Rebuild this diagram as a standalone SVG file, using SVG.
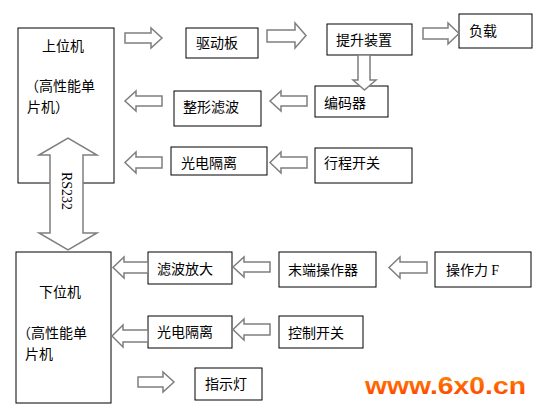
<svg xmlns="http://www.w3.org/2000/svg" width="539" height="409" viewBox="0 0 539 409">
<defs>
<style>
.box{fill:#fff;stroke:#000;stroke-width:1}
.arr{fill:#fff;stroke:#7f7f7f;stroke-width:1.5;stroke-linejoin:miter}
.t{font-family:"Noto Sans CJK SC","Noto Sans CJK JP",sans-serif;font-size:14px;fill:#000}
.s{font-family:"Liberation Serif",serif;font-size:14px;fill:#000}
</style>
<linearGradient id="wm" x1="0" y1="0" x2="0" y2="1">
<stop offset="0" stop-color="#ff8c00"/>
<stop offset="1" stop-color="#ff3c00"/>
</linearGradient>
</defs>
<rect width="539" height="409" fill="#fff"/>

<g id="upper">
<rect class="box" x="18" y="28" width="96" height="155"/>
<text class="t" x="42" y="51">上位机</text>
<text class="t" x="25" y="91">（高性能单</text>
<text class="t" x="27" y="112">片机）</text>
</g>
<g id="lower">
<rect class="box" x="16" y="252" width="95" height="151"/>
<text class="t" x="39" y="297">下位机</text>
<text class="t" x="17" y="338">（高性能单</text>
<text class="t" x="25" y="359">片机</text>
</g>
<g id="qudongban"><rect class="box" x="186" y="28" width="72" height="30"/><text class="t" x="196" y="48">驱动板</text></g>
<g id="tisheng"><rect class="box" x="327" y="24" width="85" height="31"/><text class="t" x="336" y="45">提升装置</text></g>
<g id="fuzai"><rect class="box" x="459" y="14" width="73" height="34"/><text class="t" x="469" y="36">负载</text></g>
<g id="bianmaqi"><rect class="box" x="315" y="86" width="73" height="31"/><text class="t" x="324" y="108">编码器</text></g>
<g id="zhengxing"><rect class="box" x="174" y="91" width="87" height="35"/><text class="t" x="183" y="112">整形滤波</text></g>
<g id="guangdian1"><rect class="box" x="171" y="147" width="96" height="28"/><text class="t" x="181" y="168">光电隔离</text></g>
<g id="xingcheng"><rect class="box" x="315" y="148" width="97" height="35"/><text class="t" x="324" y="168">行程开关</text></g>
<g id="lvbo"><rect class="box" x="148" y="252" width="84" height="32"/><text class="t" x="157" y="274">滤波放大</text></g>
<g id="moduan"><rect class="box" x="279" y="252" width="97" height="35"/><text class="t" x="288" y="275">末端操作器</text></g>
<g id="caozuoli"><rect class="box" x="435" y="252" width="96" height="35"/><text class="t" x="446" y="275">操作力 <tspan class="s" font-size="15">F</tspan></text></g>
<g id="guangdian2"><rect class="box" x="148" y="316" width="84" height="32"/><text class="t" x="157" y="337">光电隔离</text></g>
<g id="kongzhi"><rect class="box" x="279" y="316" width="84" height="32"/><text class="t" x="288" y="338">控制开关</text></g>
<g id="zhishideng"><rect class="box" x="195" y="368" width="67" height="32"/><text class="t" x="205" y="389">指示灯</text></g>

<g id="connectors">
<polygon class="arr" points="125,33 151,33 151,28 162,38 151,48 151,43 125,43"/>
<polygon class="arr" points="267,30 295,30 295,23 306,35.5 295,48 295,42 267,42"/>
<polygon class="arr" points="423,28 448,28 448,23 459,33.5 448,44 448,39 423,39"/>
<polygon class="arr" points="358,55 370,55 370,80 376,80 364.5,90 353,80 358,80"/>
<polygon class="arr" points="307,96 281,96 281,91 270,101 281,111 281,106 307,106"/>
<polygon class="arr" points="162,96 136,96 136,91 125,101 136,111 136,106 162,106"/>
<polygon class="arr" points="307,157 281,157 281,152 270,162.5 281,173 281,168 307,168"/>
<polygon class="arr" points="162,157 136,157 136,152 125,162.5 136,173 136,168 162,168"/>
<polygon class="arr" points="148,262 124,262 124,257 113,267.5 124,278 124,273 148,273"/>
<polygon class="arr" points="270,262 244,262 244,257 233,267 244,277 244,272 270,272"/>
<polygon class="arr" points="427,262 400,262 400,257 389,267.5 400,278 400,273 427,273"/>
<polygon class="arr" points="148,330 123,330 123,325 112,336 123,347 123,342 148,342"/>
<polygon class="arr" points="270,324 244,324 244,319 233,329.5 244,340 244,335 270,335"/>
<polygon class="arr" points="138,377 163,377 163,372 174,382 163,392 163,387 138,387"/>
<polygon class="arr" points="39,155 68,138 97,155 83,155 83,233 97,233 68,250 39,233 50,233 50,155"/>
<text class="s" transform="translate(62,172) rotate(90)">RS232</text>
</g>

<text x="365" y="394" font-family="Liberation Sans, sans-serif" font-weight="bold" font-size="23" fill="url(#wm)" textLength="161" lengthAdjust="spacingAndGlyphs">www.6x0.cn</text>
</svg>
